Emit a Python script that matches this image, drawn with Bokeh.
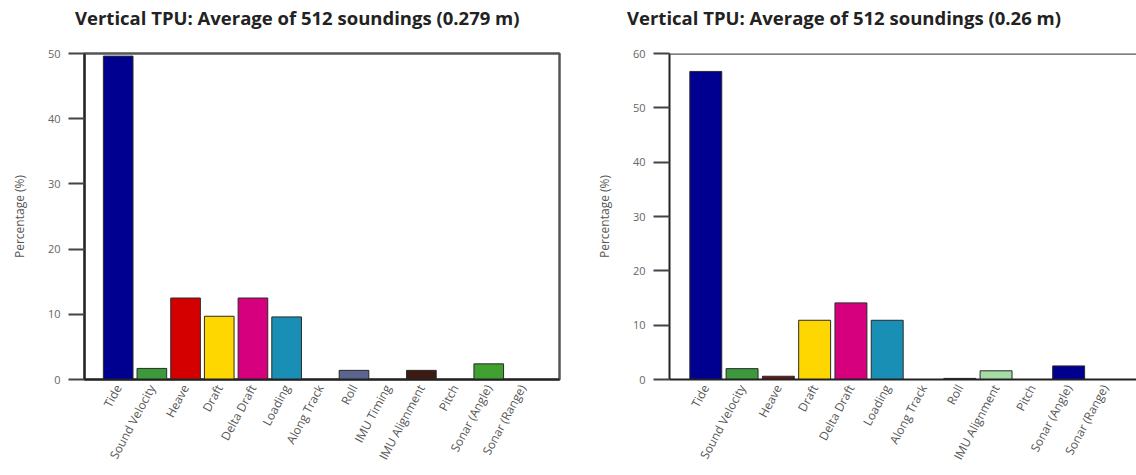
from bokeh.plotting import figure
from bokeh.layouts import row, column
from bokeh.models import FixedTicker, Span, Range1d, Div
from bokeh.embed import file_html
from bokeh.resources import INLINE

# --- data -------------------------------------------------------------
left_title = "Vertical TPU: Average of 512 soundings (0.279 m)"
left_categories = ["Tide", "Sound Velocity", "Heave", "Draft", "Delta Draft",
                   "Loading", "Along Track", "Roll", "IMU Timing",
                   "IMU Alignment", "Pitch", "Sonar (Angle)", "Sonar (Range)"]
left_values = [49.6, 1.7, 12.5, 9.7, 12.5, 9.6, 0.0, 1.4, 0.0, 1.4, 0.0, 2.4, 0.0]
left_colors = ["#000090", "#3c9a3c", "#d40000", "#ffd700", "#d6007e",
               "#1a8fb5", "#888888", "#5a6590", "#888888", "#3d1a12",
               "#888888", "#40a030", "#888888"]
left_ymax = 50
left_yticks = [0, 10, 20, 30, 40, 50]

right_title = "Vertical TPU: Average of 512 soundings (0.26 m)"
right_categories = ["Tide", "Sound Velocity", "Heave", "Draft", "Delta Draft",
                    "Loading", "Along Track", "Roll", "IMU Alignment",
                    "Pitch", "Sonar (Angle)", "Sonar (Range)"]
right_values = [56.7, 2.0, 0.6, 10.9, 14.1, 10.9, 0.0, 0.2, 1.6, 0.0, 2.5, 0.0]
right_colors = ["#000090", "#3c9a3c", "#6b1515", "#ffd700", "#d6007e",
                "#1a8fb5", "#888888", "#222222", "#a5dca5", "#888888",
                "#000090", "#888888"]
right_ymax = 60
right_yticks = [0, 10, 20, 30, 40, 50, 60]

FONT = "Open Sans"
PANEL_W = 568
HEAD_H = 41
TOP_GAP = 12


def heading(text, left_px):
    """Bold heading strip shown above each chart."""
    html = (f'<div style="margin:5px 0 0 {left_px}px;white-space:nowrap;'
            f"font-family:'{FONT}';font-size:18.5px;font-weight:bold;"
            f'color:#222222;line-height:normal">{text}</div>')
    return Div(text=html, width=PANEL_W, height=HEAD_H, margin=0)


def tpu_chart(cats, vals, colors, ymax, yticks, border_left, border_right,
              x_end, frame_right_line):
    n = len(cats)
    xs = [i + 1 for i in range(n)]
    p = figure(width=PANEL_W, height=475 - HEAD_H, output_backend="svg",
               toolbar_location=None, x_range=Range1d(0, x_end),
               y_range=Range1d(0, ymax),
               min_border_left=border_left, min_border_right=border_right,
               min_border_top=TOP_GAP, min_border_bottom=96)
    p.vbar(x=xs, top=vals, width=0.88, bottom=0, fill_color=colors,
           line_color="#2a2a2a", line_width=1)

    p.xgrid.visible = False
    p.ygrid.visible = False
    p.background_fill_color = "white"
    p.border_fill_color = "white"

    if frame_right_line:
        p.outline_line_color = "#555555"
        p.outline_line_width = 2.5
        p.outline_line_alpha = 1
    else:
        p.outline_line_color = None
        p.add_layout(Span(location=ymax, dimension="width",
                          line_color="#555555", line_width=2.5))

    xa = p.xaxis[0]
    xa.ticker = FixedTicker(ticks=xs)
    xa.major_label_overrides = {x: c for x, c in zip(xs, cats)}
    xa.major_label_orientation = 1.08
    xa.major_tick_out = 0
    xa.major_tick_in = 0
    xa.minor_tick_out = 0
    xa.minor_tick_in = 0
    xa.major_label_standoff = 6
    xa.major_label_text_font = FONT
    xa.major_label_text_font_size = "12px"
    xa.major_label_text_color = "#555555"
    xa.axis_line_color = "#222222"
    xa.axis_line_width = 2

    ya = p.yaxis[0]
    ya.ticker = FixedTicker(ticks=yticks)
    ya.major_tick_out = 16
    ya.major_tick_in = 0
    ya.minor_tick_out = 0
    ya.minor_tick_in = 0
    ya.major_tick_line_color = "#444444"
    ya.major_tick_line_width = 2
    ya.major_label_standoff = 8
    ya.major_label_text_font = FONT
    ya.major_label_text_font_size = "11px"
    ya.major_label_text_color = "#666666"
    ya.axis_line_color = "#222222"
    ya.axis_line_width = 2
    ya.axis_label = "Percentage (%)"
    ya.axis_label_text_font = FONT
    ya.axis_label_text_font_size = "12px"
    ya.axis_label_text_font_style = "normal"
    ya.axis_label_text_color = "#555555"
    ya.axis_label_standoff = 17
    return p


left = tpu_chart(left_categories, left_values, left_colors, left_ymax,
                 left_yticks, border_left=84, border_right=9, x_end=14.1,
                 frame_right_line=True)
right = tpu_chart(right_categories, right_values, right_colors, right_ymax,
                  right_yticks, border_left=101, border_right=0, x_end=12.87,
                  frame_right_line=False)

layout = row(column(heading(left_title, 75), left, spacing=0),
             column(heading(right_title, 59), right, spacing=0),
             spacing=0)
open("out.html", "w").write(file_html(layout, INLINE))
